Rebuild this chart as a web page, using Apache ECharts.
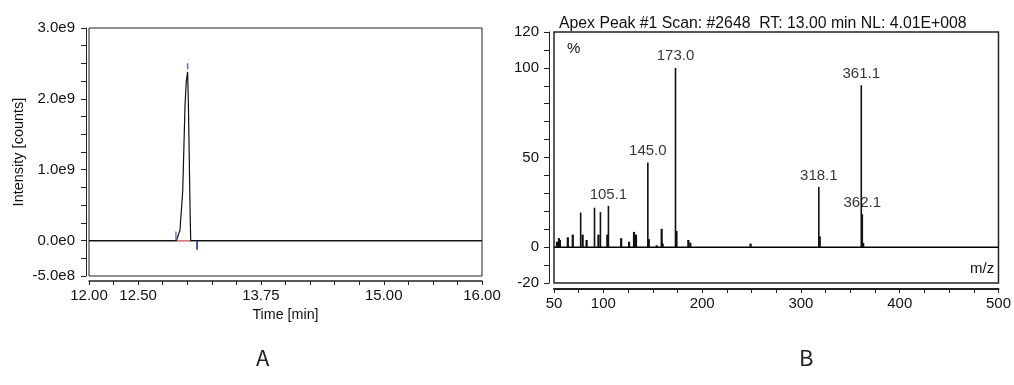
<!DOCTYPE html>
<html>
<head>
<meta charset="utf-8">
<script src="https://cdn.jsdelivr.net/npm/echarts@6/dist/echarts.min.js"></script>
<style>
html,body{margin:0;padding:0;background:#fff;}
#c{width:1014px;height:385px;}
</style>
</head>
<body>
<div id="c"></div>
<script>
// ---- Panel A: chromatogram ----
const timeMin = [12.00, 12.89, 12.905, 12.926, 12.954, 12.977, 12.99, 13.004, 13.012, 13.02, 13.028, 13.035, 13.05, 16.00];
const intensity = [0, 0, 0.01e9, 0.15e9, 0.7e9, 1.9e9, 2.25e9, 2.38e9, 1.9e9, 1.2e9, 0.5e9, 0, 0, 0];
const peakStart = 12.885, peakApex = 13.004, peakEnd = 13.10;
const apexMarkLevel = 2.46e9;
const baselineTimes = [12.89, 13.04];
const xTicksA = [12.00, 12.50, 13.75, 15.00, 16.00];
const yTicksA = [-5e8, 0, 1e9, 2e9, 3e9];

// ---- Panel B: mass spectrum ----
const mz = [53, 55, 56, 64, 69, 77, 79, 83, 91, 95, 97, 104, 105.1, 118, 126, 131, 133, 145.0, 146, 154, 159, 160, 173.0, 174, 186, 188, 249, 318.1, 319, 361.1, 362.1, 363];
const relAbund = [3, 5, 4, 5.5, 7, 19.3, 7, 4, 22, 7, 19.5, 7, 23, 5, 3, 8.5, 7, 47.2, 4.5, 1, 10.2, 2, 100, 9, 4, 2.5, 2, 33.6, 6, 90.3, 18.4, 2.4];
const labelledMz = [105.1, 145.0, 173.0, 318.1, 361.1, 362.1];
const xTicksB = [50, 100, 200, 300, 400, 500];
const yTicksB = [-20, 0, 50, 100, 120];
const titleB = 'Apex Peak #1 Scan: #2648  RT: 13.00 min NL: 4.01E+008';

const FONT = 'Liberation Sans, Arial, sans-serif';
const chart = echarts.init(document.getElementById('c'), null, {renderer: 'canvas'});

const lineA = timeMin.map((t, i) => [t, intensity[i]]);
const specData = mz.map((m, i) => [m, relAbund[i]]);
const labelData = labelledMz.map(m => [m, relAbund[mz.indexOf(m)], m.toFixed(1)]);

function near(v, arr){ return arr.some(a => Math.abs(a - v) < 1e-6 * Math.max(1, Math.abs(a))); }

const axisTxt = {color: '#111', fontFamily: FONT, fontSize: 15};

chart.setOption({
  animation: false,
  title: {
    text: titleB, left: 554, top: 11,
    textStyle: {fontFamily: FONT, fontSize: 15.8, fontWeight: 'normal', color: '#111'}
  },
  grid: [
    {left: 89, right: 532, top: 28, bottom: 109, show: true, borderColor: '#222', borderWidth: 1, backgroundColor: '#fff'},
    {left: 554, right: 11, top: 32, bottom: 102, show: true, borderColor: '#222', borderWidth: 1.5, backgroundColor: '#fff'}
  ],
  xAxis: [
    {type: 'value', gridIndex: 0, min: 12, max: 16, interval: 0.25, offset: 5,
     axisLine: {show: true, onZero: false, lineStyle: {color: '#222', width: 1.5}},
     axisTick: {show: true, length: 4, lineStyle: {color: '#222'}},
     axisLabel: Object.assign({margin: 7, formatter: v => near(v, xTicksA) ? v.toFixed(2) : ''}, axisTxt),
     splitLine: {show: false},
     name: 'Time [min]', nameLocation: 'middle', nameGap: 21,
     nameTextStyle: {fontFamily: FONT, fontSize: 14.3, color: '#111'}},
    {type: 'value', gridIndex: 1, min: 50, max: 500, interval: 25, offset: 6,
     axisLine: {show: true, onZero: false, lineStyle: {color: '#222', width: 2}},
     axisTick: {show: true, length: 4, lineStyle: {color: '#222'}},
     axisLabel: Object.assign({margin: 7, formatter: v => near(v, xTicksB) ? String(v) : ''}, axisTxt),
     splitLine: {show: false}}
  ],
  yAxis: [
    {type: 'value', gridIndex: 0, min: -5e8, max: 3e9, interval: 2.5e8, offset: 3,
     axisLine: {show: true, onZero: false, lineStyle: {color: '#222'}},
     axisTick: {show: true, length: 5, lineStyle: {color: '#222'}},
     axisLabel: Object.assign({margin: 11, formatter: v => near(v, yTicksA) ? v.toExponential(1).replace('e+', 'e') : ''}, axisTxt),
     splitLine: {show: false},
     name: 'Intensity [counts]', nameLocation: 'middle', nameGap: 60,
     nameTextStyle: {fontFamily: FONT, fontSize: 14.5, color: '#111'}},
    {type: 'value', gridIndex: 1, min: -20, max: 120, interval: 10, offset: 5,
     axisLine: {show: true, onZero: false, lineStyle: {color: '#222'}},
     axisTick: {show: true, length: 5, lineStyle: {color: '#222'}},
     axisLabel: Object.assign({margin: 10, formatter: v => near(v, yTicksB) ? String(v) : ''}, axisTxt),
     splitLine: {show: false}}
  ],
  graphic: [
    {type: 'text', left: 567, top: 41, style: {text: '%', font: '15px ' + FONT, fill: '#111'}},
    {type: 'text', left: 970, top: 261, style: {text: 'm/z', font: '15px ' + FONT, fill: '#111'}},
    {type: 'text', left: 256, top: 347, style: {text: 'A', font: '22px "Noto Sans CJK SC", "Noto Sans", sans-serif', fill: '#222'}},
    {type: 'text', left: 799, top: 347, style: {text: 'B', font: '22px "Noto Sans CJK SC", "Noto Sans", sans-serif', fill: '#222'}}
  ],
  series: [
    {type: 'line', xAxisIndex: 0, yAxisIndex: 0, data: [[12, 0], [16, 0]], symbol: 'none', silent: true,
     lineStyle: {color: '#000', width: 1.2}, z: 2},
    {type: 'line', xAxisIndex: 0, yAxisIndex: 0, data: baselineTimes.map(t => [t, 0]), symbol: 'none', silent: true,
     lineStyle: {color: '#e07a7a', width: 1.2}, z: 3},
    {type: 'line', xAxisIndex: 0, yAxisIndex: 0, data: lineA, symbol: 'none', silent: true,
     lineStyle: {color: '#111', width: 1.2}, z: 4},
    {type: 'scatter', xAxisIndex: 0, yAxisIndex: 0, silent: true, symbol: 'rect', z: 5,
     data: [
       {value: [peakStart, 0.065e9], symbolSize: [1.5, 9], itemStyle: {color: '#4a5aa8'}},
       {value: [peakEnd, -0.065e9], symbolSize: [2, 9], itemStyle: {color: '#1f2a7a'}},
       {value: [peakApex, apexMarkLevel], symbolSize: [1.5, 6], itemStyle: {color: '#3a4a98'}}
     ]},
    {type: 'line', xAxisIndex: 1, yAxisIndex: 1, data: [[50, 0], [500, 0]], symbol: 'none', silent: true,
     lineStyle: {color: '#000', width: 1.5}, z: 2},
    {type: 'custom', xAxisIndex: 1, yAxisIndex: 1, data: specData, silent: true, z: 3,
     renderItem: function (params, api) {
       const x = api.value(0), y = api.value(1);
       const p0 = api.coord([x, 0]), p1 = api.coord([x, y]);
       return {type: 'line', shape: {x1: p0[0], y1: p0[1], x2: p1[0], y2: p1[1]},
               style: {stroke: '#111', lineWidth: y > 15 ? 1.6 : 2.2}};
     }},
    {type: 'scatter', xAxisIndex: 1, yAxisIndex: 1, data: labelData, symbolSize: 0, silent: true, z: 6,
     label: {show: true, position: 'top', distance: 4, formatter: p => p.value[2],
             fontFamily: FONT, fontSize: 15, color: '#000'}}
  ]
});
</script>
</body>
</html>
